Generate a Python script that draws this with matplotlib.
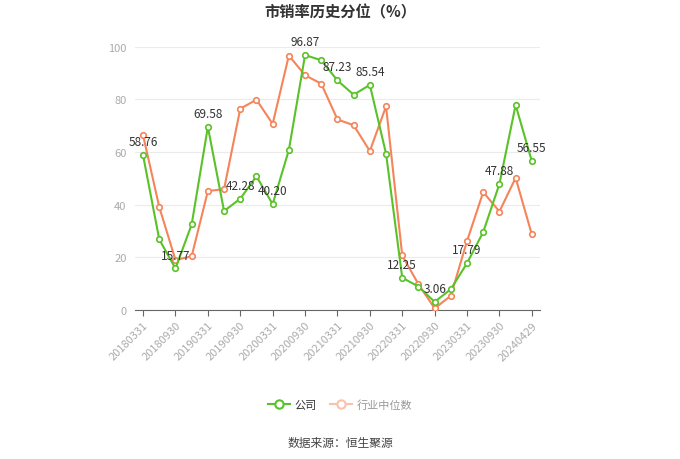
import numpy as np
import matplotlib
matplotlib.use('Agg')
import matplotlib.pyplot as plt
from matplotlib.lines import Line2D

plt.rcParams['font.family'] = ['Noto Sans CJK SC', 'DejaVu Sans']

# Quarterly dates, 20180331 .. 20231231, then 20240429
dates = ['20180331', '20180630', '20180930', '20181231',
         '20190331', '20190630', '20190930', '20191231',
         '20200331', '20200630', '20200930', '20201231',
         '20210331', '20210630', '20210930', '20211231',
         '20220331', '20220630', '20220930', '20221231',
         '20230331', '20230630', '20230930', '20231231',
         '20240429']

company = [58.76, 26.8, 15.77, 32.5, 69.58, 37.6, 42.28, 50.8, 40.20, 60.8,
           96.87, 94.9, 87.23, 81.8, 85.54, 59.4, 12.25, 8.9, 3.06, 7.9,
           17.79, 29.6, 47.88, 77.9, 56.55]
industry = [66.4, 39.1, 19.0, 20.4, 45.2, 45.9, 76.5, 79.9, 70.7, 96.7,
            89.2, 86.0, 72.4, 70.2, 60.4, 77.4, 20.7, 9.8, 0.6, 5.4,
            26.2, 44.8, 37.4, 50.2, 28.7]

green = '#5ac229'
orange = '#f5845b'

fig = plt.figure(figsize=(6.8, 4.6), dpi=100)
ax = fig.add_axes([0.1985, 0.324, 0.5955, 0.572])

x = np.arange(len(dates))
ax.plot(x, industry, color=orange, lw=1.5, marker='o', ms=4,
        markerfacecolor='white', markeredgewidth=1.2, zorder=3)
ax.plot(x, company, color=green, lw=1.5, marker='o', ms=4,
        markerfacecolor='white', markeredgewidth=1.2, zorder=4)

# value labels on every other company point
for i in range(0, len(company), 2):
    ax.annotate('%.2f' % company[i], (x[i], company[i]), xytext=(0, 5),
                textcoords='offset points', ha='center', va='bottom',
                fontsize=8.5, color='#333333', zorder=5)

ax.set_xlim(-0.5, len(dates) - 0.5)
ax.set_ylim(0, 100)
ax.set_yticks([0, 20, 40, 60, 80, 100])
ax.set_xticks(x[::2])
ax.set_xticklabels(dates[::2], rotation=45, ha='right', rotation_mode='anchor',
                   fontsize=8, color='#aaaaaa')
ax.tick_params(axis='y', length=0, labelsize=8, labelcolor='#aaaaaa', pad=6)
ax.tick_params(axis='x', length=4, color='#666666', pad=3)
ax.grid(axis='y', color='#ebebeb', lw=0.8)
ax.set_axisbelow(True)
for s in ['top', 'right', 'left']:
    ax.spines[s].set_visible(False)
ax.spines['bottom'].set_color('#666666')

fig.text(0.5, 0.972, '市销率历史分位（%）', ha='center', va='center',
         fontsize=11, fontweight='bold', color='#333333')

handles = [Line2D([], [], color=green, lw=1.5, marker='o', ms=6,
                  markerfacecolor='white', markeredgewidth=1.5),
           Line2D([], [], color='#f9c2ad', lw=1.5, marker='o', ms=6,
                  markerfacecolor='white', markeredgewidth=1.5)]
leg = fig.legend(handles, ['公司', '行业中位数'], loc='center',
                 bbox_to_anchor=(0.5, 0.118), ncol=2, frameon=False,
                 fontsize=8, handlelength=2, columnspacing=1.2, handletextpad=0.4)
leg.get_texts()[0].set_color('#333333')
leg.get_texts()[1].set_color('#999999')

fig.text(0.5, 0.035, '数据来源：恒生聚源', ha='center', va='center',
         fontsize=8.5, color='#444444')

fig.savefig('out.png', dpi=100)
